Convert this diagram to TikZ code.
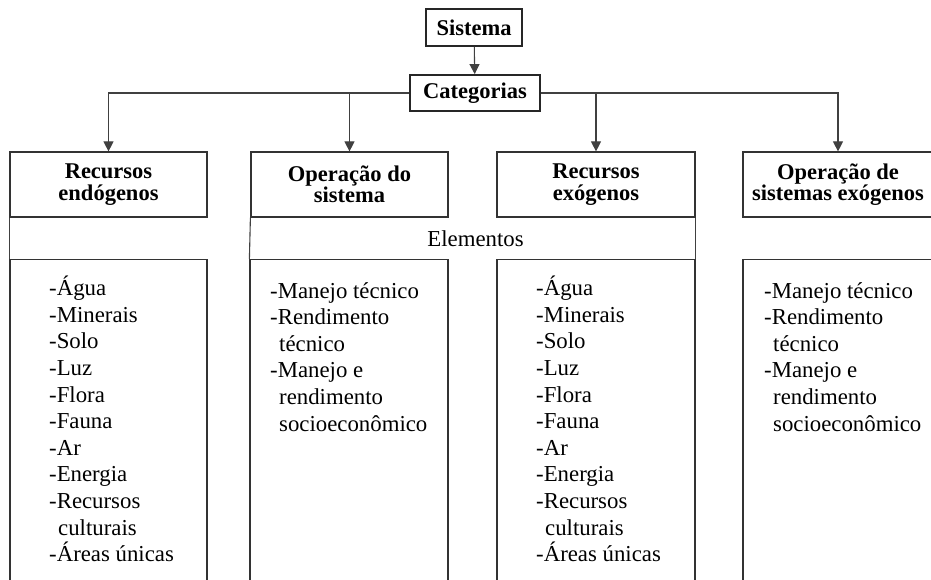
\documentclass[tikz,border=0pt]{standalone}
\usepackage{fontspec}
\setmainfont{Liberation Serif}
\usetikzlibrary{arrows.meta}
\begin{document}
\begin{tikzpicture}[x=1pt,y=-1pt,
 line/.style={draw=black!75, line width=1.1pt},
 arr/.style={line, -{Triangle[length=10pt,width=10pt]}},
 topbox/.style={draw=black!85, line width=1.8pt, font=\fontsize{22.5}{24}\selectfont\bfseries, inner sep=0pt},
 headbox/.style={draw=black!80, line width=1.2pt, minimum height=65pt, inner sep=0pt, align=center, font=\fontsize{22.5}{21.5}\selectfont\bfseries},
 listbox/.style={draw=black!80, line width=1.2pt, minimum height=400pt, anchor=north, inner sep=0pt},
 listtext/.style={anchor=north west, inner sep=0pt, align=left, font=\fontsize{22.8}{26.6}\selectfont},
 plain/.style={inner sep=0pt, font=\fontsize{22.8}{24}\selectfont}
]
\useasboundingbox (0,0) rectangle (931,579);

\node[topbox, minimum width=96pt, minimum height=37pt] (sis) at (474,27.5) {Sistema};
\node[topbox, minimum width=130pt, minimum height=36pt] (cat) at (475,93) {Categorias};

\node[headbox, minimum width=197pt] (h1) at (108.5,184.5) {Recursos\\endógenos};
\node[headbox, minimum width=197pt] (h2) at (349.5,184.5) {Operação do\\sistema};
\node[headbox, minimum width=198pt] (h3) at (596,184.5) {Recursos\\exógenos};
\node[headbox, minimum width=190pt] (h4) at (838,184.5) {Operação de\\sistemas exógenos};

\node[listbox, minimum width=197pt] (l1) at (108.5,259) {};
\node[listbox, minimum width=198pt] (l2) at (349,259) {};
\node[listbox, minimum width=198pt] (l3) at (596,259) {};
\node[listbox, minimum width=190pt] (l4) at (838,259) {};

\node[plain] (el) at (475.5,239) {Elementos};

\draw[line] (h1.south west) -- (l1.north west);
\draw[line] (h2.south west) -- (l2.north west);
\draw[line] (h3.south east) -- (l3.north east);

\draw[arr] (sis) -- (cat);
\draw[arr] (cat.west) -| (h1.north);
\draw[arr] (cat.east) -| (h4.north);
\coordinate (j2) at (h2.north |- cat.west);
\coordinate (j3) at (h3.north |- cat.east);
\draw[arr] (j2) -- (h2.north);
\draw[arr] (j3) -- (h3.north);

\node[listtext] (t1) at (49,276) {-Água\\-Minerais\\-Solo\\-Luz\\-Flora\\-Fauna\\-Ar\\-Energia\\-Recursos\\\hspace*{9pt}culturais\\-Áreas únicas};
\node[listtext] (t2) at (270,282) {-Manejo técnico\\-Rendimento\\\hspace*{9pt}técnico\\-Manejo e\\\hspace*{9pt}rendimento\\\hspace*{9pt}socioeconômico};
\node[listtext] (t3) at (536,276) {-Água\\-Minerais\\-Solo\\-Luz\\-Flora\\-Fauna\\-Ar\\-Energia\\-Recursos\\\hspace*{9pt}culturais\\-Áreas únicas};
\node[listtext] (t4) at (764,282) {-Manejo técnico\\-Rendimento\\\hspace*{9pt}técnico\\-Manejo e\\\hspace*{9pt}rendimento\\\hspace*{9pt}socioeconômico};
\end{tikzpicture}
\end{document}
